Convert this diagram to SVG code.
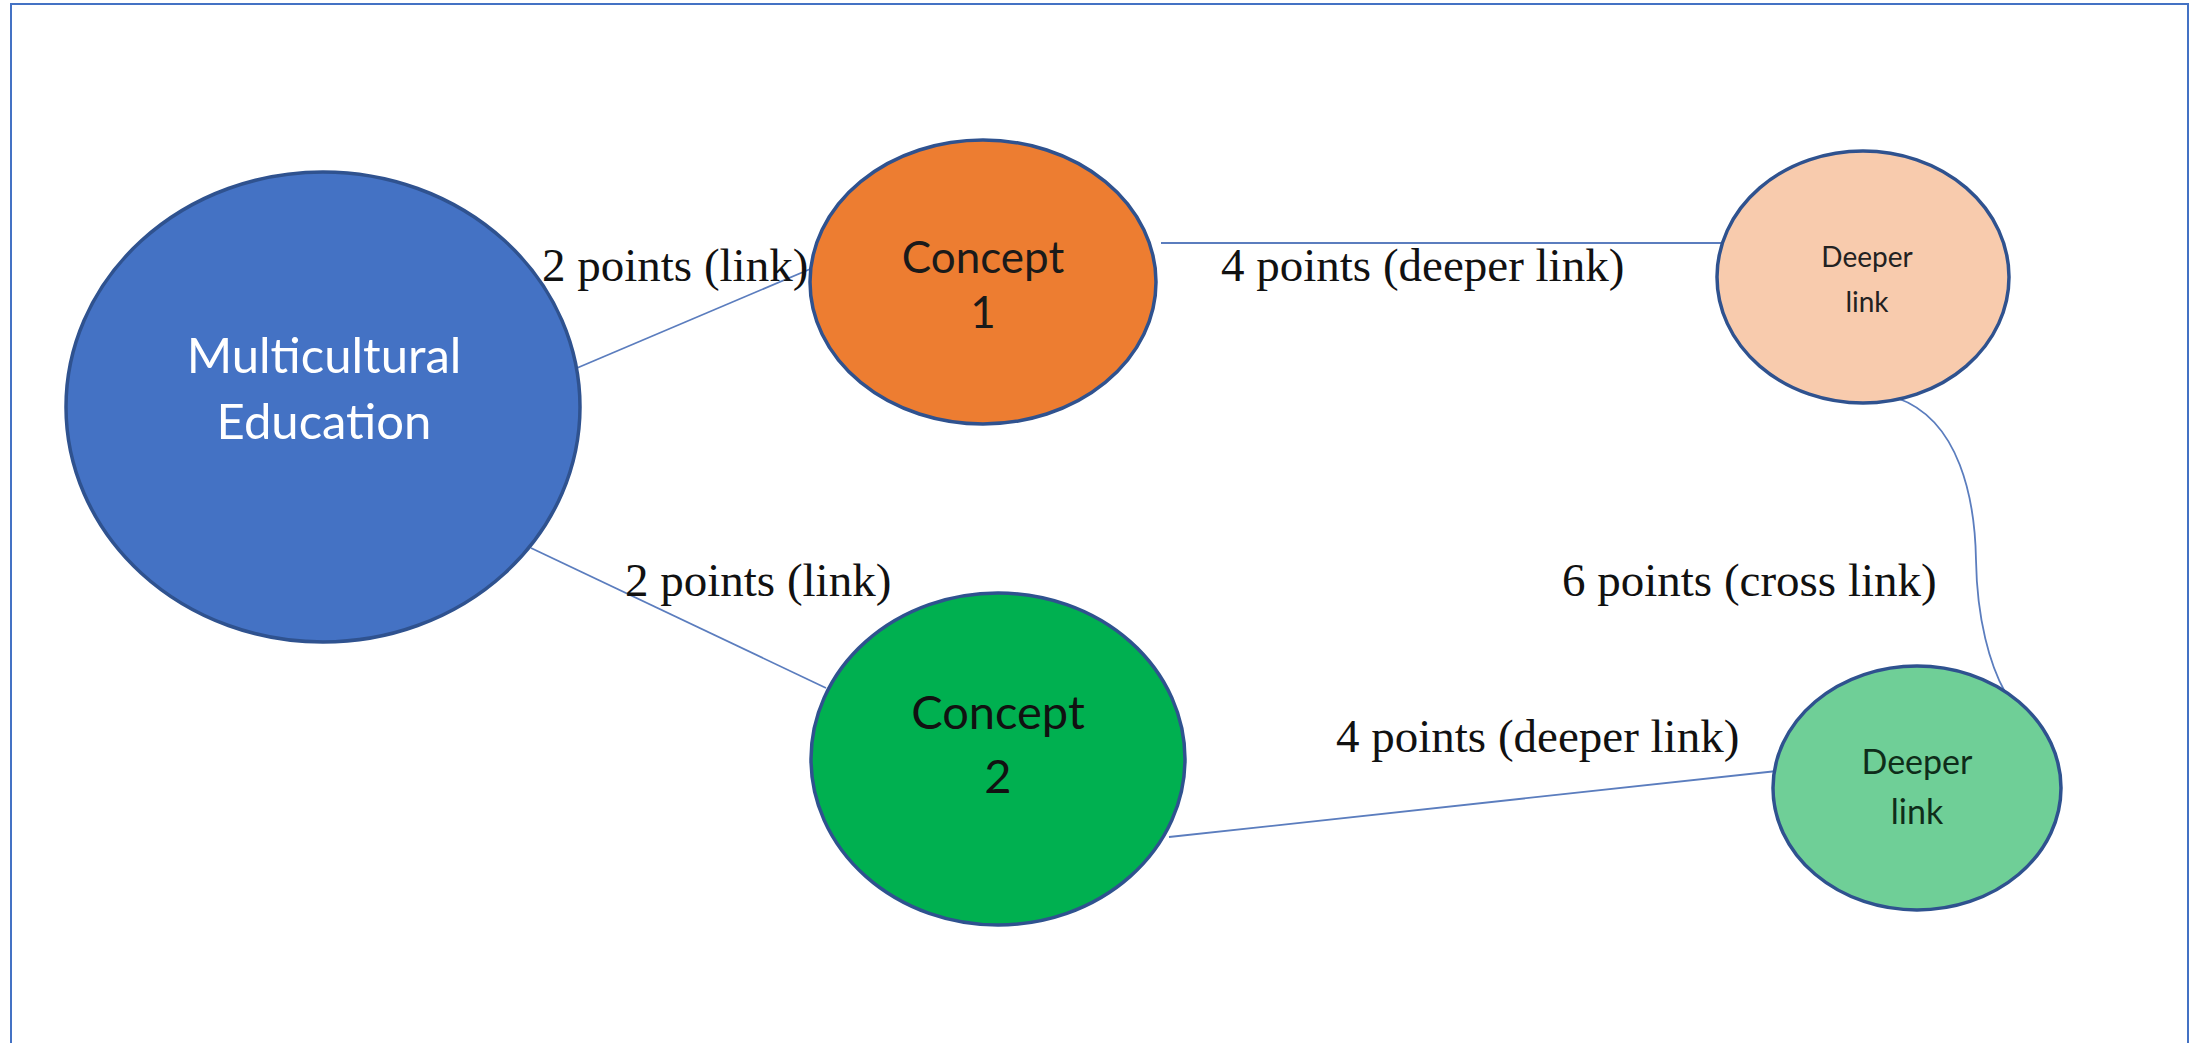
<svg xmlns="http://www.w3.org/2000/svg" width="2203" height="1043" viewBox="0 0 2203 1043">
  <style>
    .frame { fill: none; stroke: #4472C4; stroke-width: 2; }
    .node { stroke: #2F528F; stroke-width: 3.5; }
    .link { fill: none; stroke: #5B7DBE; stroke-width: 1.8; }
    .label { font-family: "Liberation Serif", "Times New Roman", serif; font-size: 47px; fill: #111; }
    .ntext { font-family: Lato, "Open Sans", sans-serif; text-anchor: middle; }
  </style>
  <rect width="2203" height="1043" fill="#ffffff"/>
  <rect class="frame" x="11" y="4" width="2177" height="1080"/>

  <g id="connectors">
    <line class="link" x1="577" y1="368" x2="815" y2="267"/>
    <line class="link" x1="531" y1="548" x2="826" y2="688"/>
    <line class="link" x1="1161" y1="243" x2="1725" y2="243"/>
    <line class="link" x1="1169" y1="837" x2="1777" y2="771"/>
    <path class="link" d="M1897,398 C1960,420 1975,500 1976,560 C1977,620 1990,665 2005,692"/>
    <text class="label" x="542" y="281">2 points (link)</text>
    <text class="label" x="1221" y="281">4 points (deeper link)</text>
    <text class="label" x="625" y="596">2 points (link)</text>
    <text class="label" x="1562" y="596">6 points (cross link)</text>
    <text class="label" x="1336" y="752">4 points (deeper link)</text>
  </g>

  <g id="multicultural-education">
    <ellipse class="node" cx="323" cy="407" rx="257" ry="235" fill="#4472C4"/>
    <text class="ntext" x="324" y="373" font-size="49" fill="#ffffff">Multicultural</text>
    <text class="ntext" x="324" y="439" font-size="49" fill="#ffffff">Education</text>
  </g>

  <g id="concept-1">
    <ellipse class="node" cx="983" cy="282" rx="173" ry="142" fill="#ED7D31"/>
    <text class="ntext" x="983" y="273" font-size="44" fill="#1a1a1a">Concept</text>
    <text class="ntext" x="983" y="328" font-size="44" fill="#1a1a1a">1</text>
  </g>

  <g id="concept-2">
    <ellipse class="node" cx="998" cy="759" rx="187" ry="166" fill="#00B050"/>
    <text class="ntext" x="998" y="729" font-size="47" fill="#111">Concept</text>
    <text class="ntext" x="998" y="793" font-size="47" fill="#111">2</text>
  </g>

  <g id="deeper-link-1">
    <ellipse class="node" cx="1863" cy="277" rx="146" ry="126" fill="#F8CBAD"/>
    <text class="ntext" x="1867" y="267" font-size="28" fill="#222">Deeper</text>
    <text class="ntext" x="1867" y="312" font-size="28" fill="#222">link</text>
  </g>

  <g id="deeper-link-2">
    <ellipse class="node" cx="1917" cy="788" rx="144" ry="122" fill="#6FCF97"/>
    <text class="ntext" x="1917" y="774" font-size="34" fill="#0f2d1a">Deeper</text>
    <text class="ntext" x="1917" y="824" font-size="34" fill="#0f2d1a">link</text>
  </g>
</svg>
